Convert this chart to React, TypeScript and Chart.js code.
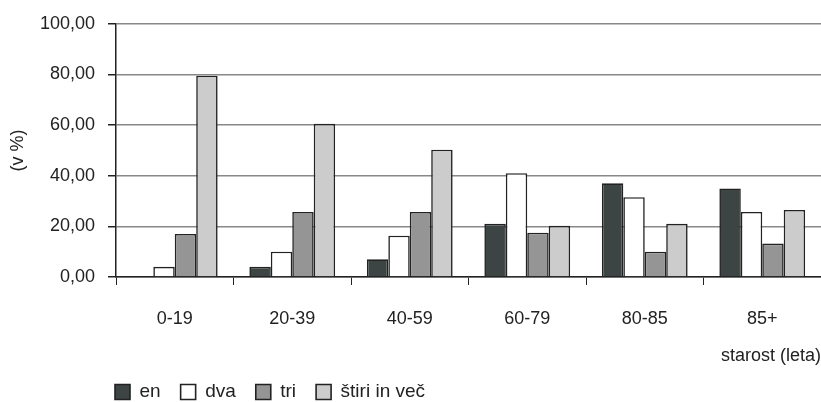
import React, { useEffect, useRef } from "react";
import { Chart, registerables } from "chart.js";

Chart.register(...registerables);

const categories = ["0-19", "20-39", "40-59", "60-79", "80-85", "85+"];
const seriesNames = ["en", "dva", "tri", "štiri in več"];
const enValues = [0, 4, 7, 21, 37, 35];
const dvaValues = [4, 10, 16.3, 41, 31.5, 25.7];
const triValues = [17, 25.7, 25.7, 17.5, 10, 13.2];
const stiriValues = [79.5, 60.5, 50.3, 20.2, 21, 26.5];
const seriesColors = ["#3c4543", "#ffffff", "#959595", "#cccccc"];
const yTicks = [0, 20, 40, 60, 80, 100];

const FONT = "'Liberation Sans', Arial, sans-serif";

export default function App() {
  const ref = useRef<HTMLCanvasElement | null>(null);

  useEffect(() => {
    if (!ref.current) return;
    const allValues = [enValues, dvaValues, triValues, stiriValues];
    const legendShift = {
      id: "legendShift",
      afterLayout(chart: any) {
        const lg = chart.legend;
        if (lg) {
          const pad = lg.options.labels.padding;
          lg.left = 115 - pad;
          lg.top = 392 - pad - 9.5;
        }
      },
    };
    const chart = new Chart(ref.current, {
      type: "bar",
      data: {
        labels: categories,
        datasets: seriesNames.map((name, i) => ({
          label: name,
          data: allValues[i],
          backgroundColor: seriesColors[i],
          borderColor: "#222222",
          borderWidth: 1.6,
          barPercentage: 1,
          categoryPercentage: 0.73,
        })),
      },
      options: {
        animation: false,
        responsive: false,
        devicePixelRatio: 1,
        layout: { padding: { top: 20, right: 0, left: 0, bottom: 0 } },
        plugins: {
          tooltip: { enabled: false },
          legend: {
            position: "bottom",
            align: "start",
            maxHeight: 35,
            labels: {
              color: "#222",
              font: { family: FONT, size: 19 },
              boxWidth: 15,
              boxHeight: 15,
              padding: 20,
            },
          },
        },
        scales: {
          x: {
            afterFit(scale: any) {
              scale.height = 90;
            },
            grid: {
              display: true,
              drawOnChartArea: false,
              drawTicks: true,
              tickLength: 8,
              color: "#222",
              offset: true,
            },
            border: { display: true, color: "#222", width: 1.5 },
            ticks: {
              color: "#222",
              font: { family: FONT, size: 18 },
              padding: 23,
              maxRotation: 0,
            },
            title: {
              display: true,
              text: "starost (leta)",
              align: "end",
              color: "#222",
              font: { family: FONT, size: 18 },
              padding: { top: 6, bottom: 0 },
            },
          },
          y: {
            min: 0,
            max: 100,
            afterBuildTicks(scale: any) {
              scale.ticks = yTicks.map((v) => ({ value: v }));
            },
            afterFit(scale: any) {
              scale.width = 116;
            },
            grid: {
              color: "#888888",
              lineWidth: 1.5,
              tickColor: "#222",
              tickLength: 8,
            },
            border: { display: true, color: "#222", width: 1.5 },
            ticks: {
              color: "#222",
              font: { family: FONT, size: 18 },
              padding: 13,
              callback: (v: any) => Number(v).toFixed(2).replace(".", ","),
            },
            title: {
              display: true,
              text: "(v %)",
              color: "#222",
              font: { family: FONT, size: 18 },
              padding: { top: 7, bottom: 0 },
            },
          },
        },
      },
      plugins: [legendShift],
    });
    return () => chart.destroy();
  }, []);

  return (
    <div style={{ position: "absolute", left: 0, top: 0, width: 821, height: 402, background: "#fff" }}>
      <canvas ref={ref} width={821} height={402} />
    </div>
  );
}
